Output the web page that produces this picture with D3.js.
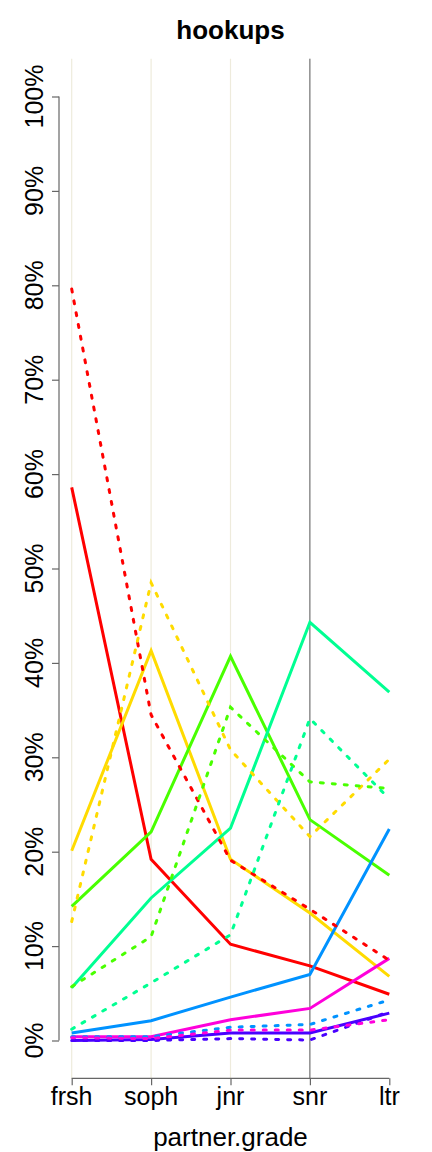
<!DOCTYPE html>
<html><head><meta charset="utf-8">
<script src="https://cdn.jsdelivr.net/npm/d3@7"></script>
<style>body{margin:0;background:#fff}text{font-family:"Liberation Sans",Arial,sans-serif}</style>
</head><body><svg id="c" width="432" height="1152"></svg>
<script>
const categories = ["frsh","soph","jnr","snr","ltr"];
const yTicks = [0,10,20,30,40,50,60,70,80,90,100];
const seriesNames = ["red","yellow","green","spring","blue","violet","magenta"];
const seriesColors = ["#FF0000","#FFDB00","#49FF00","#00FF92","#0092FF","#4900FF","#FF00DB"];
const solidValues = [
  [58.6,19.2,10.2,7.9,4.9],
  [20.1,41.3,19.2,13.5,6.8],
  [14.2,22.1,40.7,23.4,17.5],
  [5.6,15.1,22.5,44.3,36.9],
  [0.8,2.1,4.6,7.0,22.4],
  [0.0,0.1,0.8,0.8,2.9],
  [0.4,0.4,2.2,3.4,8.7]
];
const dottedValues = [
  [79.6,34.5,19.1,13.9,8.5],
  [12.6,48.5,30.8,21.6,29.8],
  [5.7,11.0,35.3,27.4,26.7],
  [1.2,6.1,11.2,34.1,25.6],
  [0.4,0.4,1.4,1.7,4.3],
  [0.0,0.0,0.2,0.05,3.05],
  [0.3,0.2,1.1,1.1,2.2]
];

const svg = d3.select("#c");
const x = d3.scalePoint().domain(categories).range([71.7,389.3]);
const y = d3.scaleLinear().domain([0,100]).range([1040.5,96.5]);
const plotTop = 58.7, plotBottom = 1078.3;

// gridlines
svg.append("g").selectAll("line").data(categories.slice(0,3)).join("line")
  .attr("x1",d=>x(d)).attr("x2",d=>x(d)).attr("y1",plotTop).attr("y2",plotBottom)
  .attr("stroke","#eeebdc").attr("stroke-width",1.2);
svg.append("line").attr("x1",x("snr")).attr("x2",x("snr")).attr("y1",plotTop).attr("y2",plotBottom)
  .attr("stroke","#555").attr("stroke-width",1);

const line = d3.line().x((d,i)=>x(categories[i])).y(d=>y(d));
const g = svg.append("g");
seriesNames.forEach((n,k)=>{
  g.append("path").attr("d",line(solidValues[k])).attr("fill","none")
    .attr("stroke",seriesColors[k]).attr("stroke-width",3);
});
seriesNames.forEach((n,k)=>{
  g.append("path").attr("d",line(dottedValues[k])).attr("fill","none")
    .attr("stroke",seriesColors[k]).attr("stroke-width",3)
    .attr("stroke-dasharray","3 9").attr("stroke-linecap","round");
});

// y axis
const ya = svg.append("g").attr("transform","translate(59,0)")
  .call(d3.axisLeft(y).tickValues(yTicks).tickSize(7).tickFormat(""));
ya.selectAll("path,line").attr("stroke","#666").attr("stroke-width",1.2);
ya.select(".domain").attr("d",`M0,${y(0)}V${y(100)}`);
svg.append("g").selectAll("text").data(yTicks).join("text")
  .attr("transform",d=>`translate(43,${y(d)}) rotate(-90)`)
  .attr("text-anchor","middle").attr("font-size",25).attr("fill","#000")
  .text(d=>d+"%");

// x axis
const xa = svg.append("g").attr("transform",`translate(0,${plotBottom})`)
  .call(d3.axisBottom(x).tickSize(7).tickFormat(""));
xa.selectAll("path,line").attr("stroke","#666").attr("stroke-width",1.2);
xa.select(".domain").attr("d",`M${x("frsh")},0H${x("ltr")}`);
svg.append("g").selectAll("text").data(categories).join("text")
  .attr("x",d=>x(d)).attr("y",1105).attr("text-anchor","middle")
  .attr("font-size",25).attr("fill","#000").text(d=>d);

svg.append("text").attr("x",230.5).attr("y",1146).attr("text-anchor","middle")
  .attr("font-size",26).text("partner.grade");
svg.append("text").attr("x",230.5).attr("y",39).attr("text-anchor","middle")
  .attr("font-size",26).attr("font-weight","bold").text("hookups");
</script></body></html>
